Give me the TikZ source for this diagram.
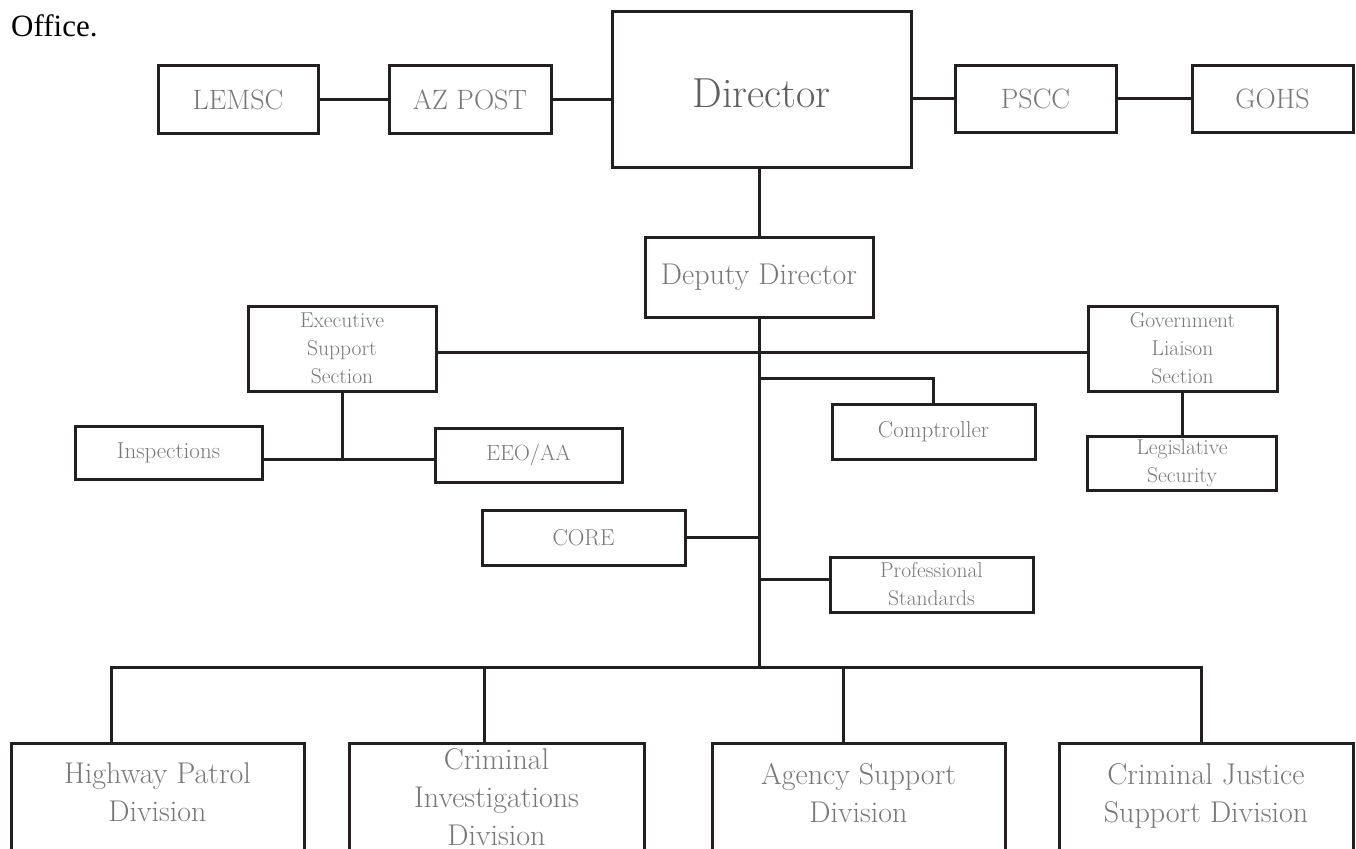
\documentclass[tikz,border=0pt]{standalone}
\usepackage{fontspec}
\newfontfamily\timesfont{Liberation Serif}
\definecolor{linec}{RGB}{35,31,32}
\definecolor{txtc}{RGB}{120,120,120}
\definecolor{dirc}{RGB}{95,95,95}
\begin{document}
\begin{tikzpicture}[x=1pt,y=-1pt,
  box/.style={draw=linec, line width=3pt, inner sep=0pt, text=txtc, align=center, fill=white},
  conn/.style={draw=linec, line width=3pt},
  topf/.style={font=\fontsize{28}{34}\selectfont},
  smf/.style={font=\fontsize{21.5}{28}\selectfont},
  midf/.style={font=\fontsize{23}{28}\selectfont},
  btxt/.style={inner sep=0pt, align=center, text=txtc, font=\fontsize{30}{38}\selectfont}]
\useasboundingbox (0,0) rectangle (1356,848);
\clip (0,0) rectangle (1356,848);

% heading fragment
\node[anchor=base west, inner sep=0pt, font=\timesfont\fontsize{31}{37}\selectfont] (office) at (11,37) {Office.};

% top row
\node[box, topf, minimum width=160pt, minimum height=67pt] (lemsc) at (238,99.5) {LEMSC};
\node[box, topf, minimum width=162pt, minimum height=67pt] (azpost) at (470,99.5) {AZ POST};
\node[box, font=\fontsize{42}{50}\selectfont, text=dirc, minimum width=299pt, minimum height=155pt, text height=36.7pt, text depth=0pt] (director) at (761.5,89.5) {Director};
\node[box, topf, minimum width=161pt, minimum height=66pt] (pscc) at (1035.5,99) {PSCC};
\node[box, topf, minimum width=161pt, minimum height=66pt] (gohs) at (1272.5,99) {GOHS};

% deputy
\node[box, font=\fontsize{30}{36}\selectfont, minimum width=228pt, minimum height=80pt] (deputy) at (759,277) {Deputy Director};

% sections
\node[box, smf, minimum width=188pt, minimum height=85pt] (exec) at (342,348.5) {Executive\\Support\\Section};
\node[box, smf, minimum width=189pt, minimum height=85pt] (gov) at (1182.5,348.5) {Government\\Liaison\\Section};
\node[box, smf, minimum width=189pt, minimum height=54pt] (legis) at (1182,463) {Legislative\\Security};
\node[box, midf, minimum width=203pt, minimum height=55pt] (comp) at (933.5,431.5) {Comptroller};
\node[box, midf, minimum width=187pt, minimum height=53pt] (insp) at (168.5,452.5) {Inspections};
\node[box, font=\fontsize{22}{28}\selectfont, minimum width=187pt, minimum height=54pt] (eeo) at (528.5,455) {EEO/AA};
\node[box, midf, minimum width=203pt, minimum height=55pt] (core) at (583.5,537.5) {CORE};
\node[box, smf, minimum width=203pt, minimum height=55pt] (prof) at (931.5,584.5) {Professional\\Standards};

% divisions (boxes run past the lower edge)
\node[box, minimum width=293pt, minimum height=137pt] (hpd) at (157.5,811.5) {};
\node[box, minimum width=295pt, minimum height=137pt] (cid) at (496.5,811.5) {};
\node[box, minimum width=293pt, minimum height=137pt] (asd) at (858.5,811.5) {};
\node[box, minimum width=294pt, minimum height=137pt] (cjsd) at (1206,811.5) {};
\node[btxt] (hpdT) at (157.5,792.6) {Highway Patrol\\Division};
\node[btxt] (cidT) at (496.5,797.6) {Criminal\\Investigations\\Division};
\node[btxt] (asdT) at (858.5,792.7) {Agency Support\\Division};
\node[btxt] (cjsdT) at (1206,795.5) {Criminal Justice\\Support Division};

% coordinates
\coordinate (b1) at (111,667);
\coordinate (b2) at (484,667);
\coordinate (b3) at (843,667);
\coordinate (b4) at (1201,667);
\coordinate (tc) at (759,378);
\coordinate (ej) at (340,459);

% connectors
\draw[conn] (lemsc.east) -- (azpost.west);
\draw[conn] (azpost.east) -- (azpost.east -| director.west);
\draw[conn] (director.east |- pscc.west) -- (pscc.west);
\draw[conn] (pscc.east) -- (gohs.west);
\draw[conn] (deputy.north) -- (deputy.north |- director.south);
\draw[conn] (deputy.south) -- (deputy.south |- b1);
\draw[conn] ([yshift=-3.5pt]exec.east) -- ([yshift=-3.5pt]gov.west);
\draw[conn] (comp.north) |- (tc);
\draw[conn] (gov.south) -- (gov.south |- legis.north);
\draw[conn] (exec.south) -- (exec.south |- ej);
\draw[conn] (insp.east |- ej) -- (eeo.west |- ej);
\draw[conn] (core.east) -- (core.east -| deputy.south);
\draw[conn] ([yshift=5.5pt]prof.west) -- ([yshift=5.5pt]prof.west -| deputy.south);
\draw[conn] (b1 |- hpd.north) -- (b1) -- (b4) -- (b4 |- cjsd.north);
\draw[conn] (b2) -- (b2 |- cid.north);
\draw[conn] (b3) -- (b3 |- asd.north);
\end{tikzpicture}
\end{document}
